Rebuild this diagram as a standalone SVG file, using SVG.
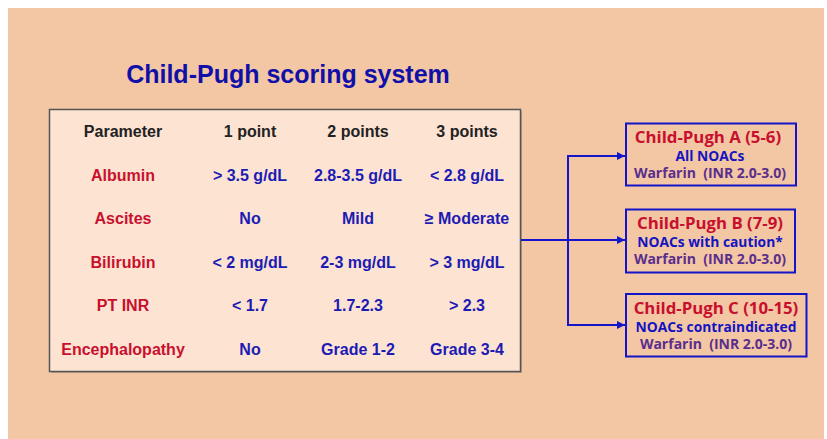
<svg xmlns="http://www.w3.org/2000/svg" width="827" height="439" viewBox="0 0 827 439">
  <defs>
    <style>
      .t { font-family: "Liberation Sans", Arial, sans-serif; font-weight: bold; font-size: 16px; text-anchor: middle; }
      .hd { fill: #222222; }
      .pr { fill: #c8102e; }
      .vl { fill: #1c1cb4; }
      .title { font-family: "Liberation Sans", Arial, sans-serif; font-weight: bold; font-size: 25px; fill: #1010a8; text-anchor: middle; }
      .bx { fill: none; stroke: #1414c8; stroke-width: 2; }
      .b1 { font-family: "Open Sans", "Noto Sans", sans-serif; font-weight: bold; font-size: 16.8px; fill: #c8102e; text-anchor: middle; }
      .b2 { font-family: "Open Sans", "Noto Sans", sans-serif; font-weight: bold; font-size: 13.8px; fill: #1414c0; text-anchor: middle; }
      .b3 { font-family: "Open Sans", "Noto Sans", sans-serif; font-weight: bold; font-size: 14px; fill: #5a2e8c; text-anchor: middle; white-space: pre; }
      .cn { fill: none; stroke: #1414c8; stroke-width: 2; }
    </style>
    <marker id="arr" viewBox="0 0 10 10" refX="10" refY="5" markerWidth="4" markerHeight="4" orient="auto" markerUnits="strokeWidth">
      <path d="M0,0 L10,5 L0,10 z" fill="#1414c8"/>
    </marker>
  </defs>

  <rect x="8" y="8" width="816" height="431" fill="#f3c6a4"/>

  <text class="title" x="288" y="83">Child-Pugh scoring system</text>

  <g id="table">
    <rect x="51" y="111" width="471" height="262" fill="#8a7a70" opacity="0.5"/>
    <rect x="49.5" y="109.5" width="471" height="262" fill="#fde3d2" stroke="#555555" stroke-width="1.5"/>
    <text class="t hd" x="123" y="137">Parameter</text>
    <text class="t hd" x="250" y="137">1 point</text>
    <text class="t hd" x="358" y="137">2 points</text>
    <text class="t hd" x="467" y="137">3 points</text>

    <text class="t pr" x="123" y="181">Albumin</text>
    <text class="t vl" x="250" y="181">&gt; 3.5 g/dL</text>
    <text class="t vl" x="358" y="181">2.8-3.5 g/dL</text>
    <text class="t vl" x="467" y="181">&lt; 2.8 g/dL</text>

    <text class="t pr" x="123" y="224">Ascites</text>
    <text class="t vl" x="250" y="224">No</text>
    <text class="t vl" x="358" y="224">Mild</text>
    <text class="t vl" x="467" y="224">≥ Moderate</text>

    <text class="t pr" x="123" y="268">Bilirubin</text>
    <text class="t vl" x="250" y="268">&lt; 2 mg/dL</text>
    <text class="t vl" x="358" y="268">2-3 mg/dL</text>
    <text class="t vl" x="467" y="268">&gt; 3 mg/dL</text>

    <text class="t pr" x="123" y="311">PT INR</text>
    <text class="t vl" x="250" y="311">&lt; 1.7</text>
    <text class="t vl" x="358" y="311">1.7-2.3</text>
    <text class="t vl" x="467" y="311">&gt; 2.3</text>

    <text class="t pr" x="123" y="355">Encephalopathy</text>
    <text class="t vl" x="250" y="355">No</text>
    <text class="t vl" x="358" y="355">Grade 1-2</text>
    <text class="t vl" x="467" y="355">Grade 3-4</text>
  </g>

  <g id="connectors">
    <path class="cn" d="M521,240 L625,240" marker-end="url(#arr)"/>
    <path class="cn" d="M625,156 L568,156 L568,325 L625,325" marker-end="url(#arr)"/>
    <path class="cn" d="M568,156 L625,156" marker-end="url(#arr)"/>
  </g>

  <g id="child-pugh-a">
    <rect class="bx" x="626" y="123.5" width="170" height="62"/>
    <text class="b1" x="708" y="143">Child-Pugh A (5-6)</text>
    <text class="b2" x="710" y="161">All NOACs</text>
    <text class="b3" x="710" y="177.5" xml:space="preserve">Warfarin  (INR 2.0-3.0)</text>
  </g>

  <g id="child-pugh-b">
    <rect class="bx" x="626" y="209.5" width="169" height="63"/>
    <text class="b1" x="710" y="229">Child-Pugh B (7-9)</text>
    <text class="b2" x="710" y="247">NOACs with caution*</text>
    <text class="b3" x="710" y="263.5" xml:space="preserve">Warfarin  (INR 2.0-3.0)</text>
  </g>

  <g id="child-pugh-c">
    <rect class="bx" x="626" y="294" width="180.5" height="62.5"/>
    <text class="b1" x="716" y="314">Child-Pugh C (10-15)</text>
    <text class="b2" x="716" y="332">NOACs contraindicated</text>
    <text class="b3" x="716" y="348.5" xml:space="preserve">Warfarin  (INR 2.0-3.0)</text>
  </g>
</svg>
